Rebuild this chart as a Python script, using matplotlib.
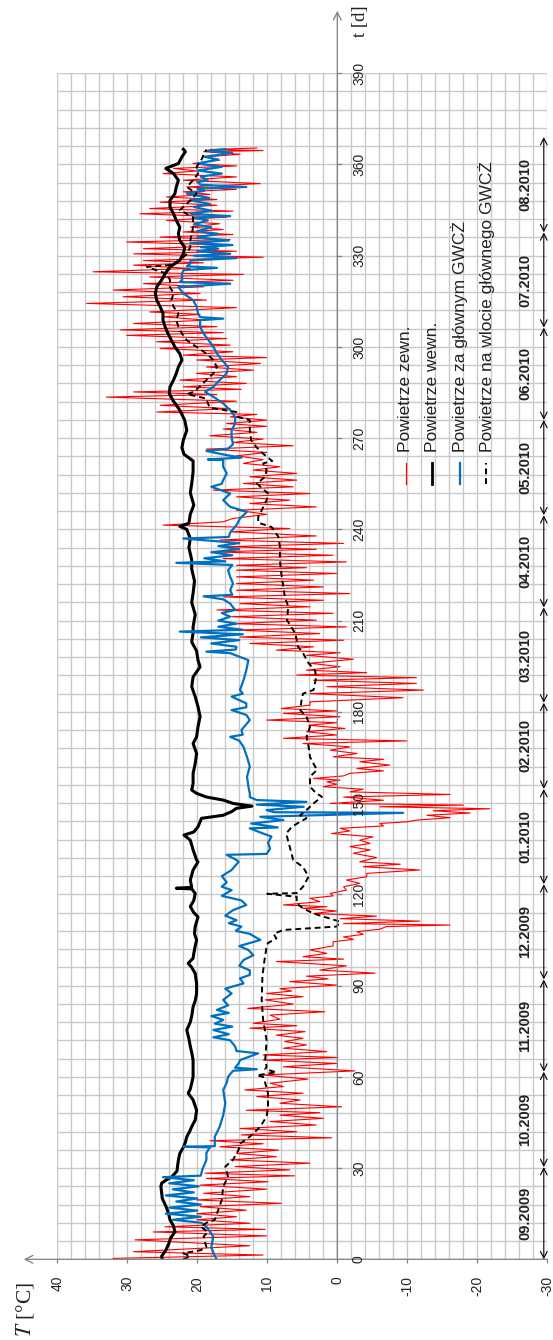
import matplotlib
matplotlib.use('Agg')
import matplotlib.pyplot as plt
import numpy as np

plt.rcParams['font.family'] = ['Liberation Sans', 'DejaVu Sans']
plt.rcParams['mathtext.fontset'] = 'stix'

# ---------------- data ----------------
# outdoor air (Powietrze zewn.) : time [d], local max and min [degC]
red_t = [0.3, 2.5, 6.4, 9, 10.7, 13, 15, 17.3, 19.5, 21.7,
         24.4, 26.6, 28.3, 30.5, 32.7, 34.8, 37, 39, 40.9, 43,
         45.3, 47.4, 49, 51.3, 53.5, 55.7, 57.9, 60.6, 63.3, 65.5,
         67.2, 69.4, 71.6, 73.7, 76, 77.6, 80.3, 82.5, 85.3, 87.4,
         89, 91.3, 93.1, 95.1, 97.9, 99.5, 101.7, 104.4, 106, 107.7,
         109.4, 110.4, 112, 113.7, 115.4, 116.5, 118.7, 120.3, 122.5, 124.7,
         126.9, 129.1, 130.7, 133.5, 135.7, 137.8, 140, 141.7, 143.3, 144.4,
         146, 147.5, 148.8, 149.9, 152, 153.7, 155.4, 157, 158.1, 159.8,
         161.4, 163.6, 165.2, 167.4, 169.6, 171.3, 173.5, 175.6, 177.3, 179.5,
         181.1, 183.3, 186, 188.3, 190.4, 192.1, 193.7, 196, 198.6, 200.3,
         202.5, 204.6, 206.9, 209, 211.3, 213.5, 215.6, 217.8, 220, 222.2,
         224.4, 226.6, 228.2, 230.4, 232.6, 234.3, 236.5, 239.2, 241.4, 243.6,
         246.3, 248.5, 250.7, 252.9, 255.1, 257.3, 259.5, 261.7, 264.2, 266.4,
         268.6, 270.8, 273, 274.8, 277, 278.6, 280.8, 283.5, 285.2, 286.9,
         289.1, 291.3, 293.4, 295.7, 297.3, 299.5, 301.7, 303.8, 305.6, 307.7,
         309.9, 311.5, 314.3, 316.5, 318.7, 320.8, 323, 324.7, 326.9, 328.4,
         330.6, 332.3, 334.5, 336.1, 337.8, 339.4, 341.6, 343.8, 345.5, 347.6,
         349.3, 351, 352.6, 354.8, 357, 358.7, 360.3, 362.5, 364.2, 364.9]
red_max = [32.0, 29.1, 28.9, 26.3, 24.6, 20.1, 20.1, 19.6, 20.1, 19.1,
           19.6, 18.7, 18.9, 14.6, 15.3, 14.4, 16.8, 18.2, 13.7, 13.9,
           9.6, 8.2, 13.0, 8.2, 11.5, 13.2, 9.6, 10.6, 7.7, 10.6,
           10.6, 7.7, 7.5, 8.7, 12.5, 12.0, 9.6, 12.8, 10.3, 10.1,
           8.2, 6.8, 4.4, 2.5, 8.7, 4.9, 3.9, 0.6, -0.9, -2.8,
           -7.0, -0.9, -0.4, 3.4, 4.9, 7.7, 3.9, 1.0, -0.9, -1.3,
           -4.2, -3.7, -3.2, -2.3, -1.8, -3.2, 0.8, -0.4, -6.1, -11.3,
           -12.8, -13.7, -6.1, 1.0, -0.9, -1.8, 2.0, 1.5, 3.4, -1.8,
           -2.8, -3.2, 0.6, 1.0, 4.9, 7.7, 4.4, 4.1, 10.1, 7.7,
           8.0, 3.9, 3.9, 1.5, 3.4, 5.8, 4.4, 3.9, 4.4, 8.7,
           12.5, 13.9, 14.4, 14.9, 15.1, 17.2, 13.9, 16.3, 14.4, 14.4,
           14.4, 14.4, 14.4, 16.3, 17.7, 15.8, 16.8, 15.3, 24.9, 14.9,
           14.4, 12.5, 14.4, 17.7, 13.4, 12.5, 12.0, 13.4, 14.4, 18.7,
           14.9, 18.2, 16.3, 15.8, 15.3, 25.8, 25.3, 33.0, 29.1, 22.0,
           22.5, 20.1, 18.7, 20.1, 22.0, 25.3, 25.8, 30.1, 31.0, 29.1,
           24.9, 26.8, 35.8, 30.6, 32.0, 27.7, 26.8, 34.9, 29.1, 27.7,
           29.1, 27.7, 30.1, 25.3, 22.0, 21.0, 24.4, 28.2, 26.8, 25.3,
           24.4, 22.0, 21.5, 22.0, 24.9, 23.4, 20.6, 18.7, 19.1, 18.2]
red_min = [10.6, 12.5, 10.1, 10.3, 12.5, 14.4, 13.0, 8.0, 12.5, 10.1,
           9.9, 6.1, 6.8, 3.9, 8.7, 8.4, 10.6, 0.8, 5.8, 3.0,
           2.0, 2.5, -0.6, 5.3, 4.9, 7.7, 4.2, -2.5, 0.1, -0.1,
           1.5, 4.4, 4.9, 4.6, 5.8, 8.2, 1.8, 6.3, 4.9, 6.5,
           0.1, 1.3, -5.4, -1.3, -0.9, 1.5, 0.6, -2.3, -3.7, -6.1,
           -16.1, -11.8, -5.6, 0.1, 1.5, 2.5, 0.6, -1.3, -3.2, -4.2,
           -11.8, -9.0, -5.6, -4.7, -4.7, -5.1, -1.8, -6.6, -9.9, -16.1,
           -19.0, -21.8, -18.0, -6.6, -16.1, -3.7, 0.1, -0.4, -0.9, -6.6,
           -7.5, -6.6, -2.8, -1.8, -9.9, 0.1, -1.1, 0.1, -0.4, 0.1,
           3.9, -9.4, -12.3, -11.3, -11.3, -4.2, -0.4, -2.3, -0.4, 3.4,
           -0.9, 2.5, -1.3, 3.0, 0.6, 3.9, 2.0, -1.8, 2.0, 3.4,
           0.1, 4.4, -1.3, 0.6, 3.0, -0.9, 3.0, 6.8, 16.3, 10.1,
           3.0, 6.8, 3.9, 6.3, 5.8, 5.8, 8.2, 10.6, 10.1, 6.3,
           10.6, 11.5, 10.1, 10.1, 11.5, 15.3, 14.4, 17.2, 13.7, 13.0,
           14.4, 12.0, 11.0, 10.1, 14.9, 15.3, 15.8, 16.3, 17.2, 18.7,
           19.6, 14.4, 18.7, 19.6, 19.1, 14.9, 13.4, 21.0, 19.1, 10.6,
           14.4, 14.9, 15.3, 14.9, 16.3, 16.8, 15.8, 14.9, 17.2, 17.2,
           18.2, 14.4, 11.0, 14.4, 20.1, 14.4, 16.8, 13.9, 10.6, 11.5]

# indoor air (Powietrze wewn.)
black_t = [0, 1, 3, 5, 7, 9, 11, 13, 15, 17,
           18, 20, 22, 24, 25, 26, 27, 29, 31, 32.6,
           34.8, 36.8, 38.5, 40.3, 42, 43.6, 45.8, 47.5, 49, 51,
           52.4, 54.6, 56, 57.9, 60, 61, 64.4, 65.5, 68, 70,
           72.5, 75.4, 78, 80, 83, 85, 87.4, 90.7, 94, 96,
           97.3, 99, 100.6, 103, 105, 107, 109.4, 112.6, 114, 116,
           118, 120.3, 121.8, 122, 122.3, 124.7, 128, 130.7, 131.3, 134.6,
           137.8, 139.5, 140.5, 142.2, 145, 146, 147.2, 148.3, 149, 149.9,
           151, 152, 153.2, 154.3, 156.5, 159.8, 163, 166.3, 169.6, 171.8,
           175.1, 178.4, 181.7, 185, 188.3, 191.5, 194.8, 197, 200, 203,
           206, 208, 212, 216, 219, 223, 227, 230, 234, 237,
           240, 241, 242, 245, 248, 252, 255, 259, 262.5, 264.7,
           266.9, 269.3, 272.6, 275.9, 279.2, 282.5, 284.7, 286.9, 289.1, 291.3,
           293.4, 295.7, 297.8, 300, 302.2, 304.4, 306.6, 308.8, 311, 313.2,
           315.4, 317.6, 319.7, 322, 324.1, 326.3, 328.5, 330.6, 332.8, 335,
           337.2, 339.4, 341.6, 343.8, 346, 348.2, 350.4, 352.6, 354.8, 357,
           358.7, 360.3, 362.5, 364.2, 365]
black_v = [25.0, 25.1, 24.5, 24.1, 23.8, 23.2, 23.4, 23.9, 24.1, 24.4,
           24.6, 25.0, 25.1, 25.2, 25.1, 24.5, 23.7, 22.9, 22.8, 22.7,
           22.5, 22.0, 21.7, 21.5, 21.1, 20.8, 20.3, 20.2, 20.1, 20.4,
           20.6, 21.3, 21.0, 20.8, 20.6, 20.6, 20.6, 20.6, 20.8, 21.0,
           21.2, 21.5, 21.0, 20.8, 20.6, 20.3, 20.1, 20.1, 20.3, 20.8,
           21.3, 20.6, 20.5, 20.3, 20.1, 20.4, 20.3, 19.9, 20.5, 21.0,
           20.5, 20.3, 20.8, 23.0, 20.8, 21.0, 20.6, 19.9, 20.1, 20.6,
           21.0, 21.9, 20.5, 19.9, 19.4, 16.3, 15.1, 14.4, 12.2, 14.9,
           16.3, 18.7, 20.1, 20.8, 20.6, 20.6, 20.3, 20.1, 20.6, 20.1,
           19.9, 19.6, 19.9, 20.3, 20.8, 20.6, 19.6, 19.9, 20.1, 20.8,
           20.6, 20.6, 20.3, 20.8, 20.6, 20.4, 20.8, 20.8, 21.2, 21.0,
           21.5, 22.5, 21.2, 21.0, 20.5, 21.0, 20.8, 20.6, 20.6, 21.9,
           22.2, 22.0, 21.5, 21.8, 22.5, 23.5, 24.0, 23.9, 23.4, 23.0,
           22.7, 22.2, 22.5, 23.2, 23.7, 24.2, 24.6, 24.9, 24.9, 25.3,
           25.8, 26.0, 25.8, 25.1, 24.6, 23.9, 22.5, 22.0, 21.8, 22.5,
           22.7, 22.5, 23.0, 23.4, 23.9, 23.9, 23.2, 23.0, 22.7, 23.4,
           24.5, 22.7, 22.2, 21.7, 22.0]

# air after the main ground heat exchanger (Powietrze za glownym GWCZ)
blue_t = [0, 1, 4, 7.5, 10.7, 12, 13, 14, 15, 16,
          17, 18, 19, 20, 21, 22, 23, 24, 25, 26,
          27, 27.5, 29.4, 32.7, 35, 36.8, 37, 37.2, 40.3, 43.6,
          47.4, 51.3, 55.7, 58, 60, 62, 62.5, 63, 64.4, 65.5,
          67.7, 68.5, 70, 72, 73, 74, 75.4, 76.5, 77.5, 78.7,
          80, 81, 82, 83.5, 85.3, 87.4, 89, 90.7, 92.4, 93.5,
          95, 96.5, 98.4, 100, 101.7, 103, 105, 107, 108, 109.4,
          110.5, 111.5, 113, 114.8, 116.5, 118, 119.5, 121.4, 122.5, 124,
          126, 128, 130.7, 131.3, 133, 133.3, 135, 137, 139, 140,
          141.7, 142, 143.3, 144.4, 145.5, 146.8, 147, 147.7, 148.8, 149.5,
          150.4, 151, 152, 153.2, 155.4, 158.7, 162, 165.2, 168.5, 170.5,
          171.8, 172.5, 174, 177.3, 179, 180.6, 181.5, 182.8, 185, 186,
          187.2, 190.4, 193.7, 197, 199.3, 199.8, 200.5, 201.4, 202.5, 203.6,
          204.5, 205.5, 206.4, 207, 208, 209, 210, 211.3, 212.5, 213.5,
          215.6, 217, 218, 218.5, 220, 222.2, 224.4, 226.6, 228.3, 229,
          229.5, 230.5, 231.5, 232.5, 233.5, 234.5, 235.5, 237, 237.5, 239,
          241.4, 243.6, 245.8, 247.4, 249.6, 251.8, 254, 255, 256.2, 258.4,
          260.6, 262.8, 263, 263.6, 264.5, 265.8, 266.5, 268, 270.3, 272.6,
          274.8, 277, 279.2, 281.4, 283.6, 285.2, 286.9, 289.1, 291.3, 293.4,
          295.7, 297.8, 300, 302.2, 304.4, 306.6, 308.8, 309.3, 309.8, 311,
          313.2, 315.4, 317.6, 319.7, 320.8, 321.3, 322, 324.1, 325.2, 326,
          326.5, 327.4, 328.4, 329.2, 330, 330.6, 331.5, 332.3, 332.8, 333.5,
          334.2, 335, 336, 337.2, 338, 339.4, 340.3, 341.6, 342.5, 343,
          343.8, 344.8, 346, 347, 348.2, 349, 350.4, 351.3, 352, 352.6,
          353.3, 354.2, 354.8, 356, 357, 358, 359.2, 360.3, 361.6, 362.5,
          363.8, 364.5, 365]
blue_v = [17.2, 17.5, 18.0, 17.7, 18.7, 19.4, 23.5, 19.5, 24.5, 20.0,
          24.0, 19.5, 23.0, 20.0, 24.5, 20.5, 23.5, 19.8, 24.0, 20.5,
          24.9, 19.5, 19.3, 18.7, 18.7, 18.2, 22.0, 17.5, 17.5, 16.8,
          16.3, 16.0, 16.3, 15.8, 15.6, 14.9, 11.5, 14.6, 14.1, 13.9,
          11.3, 14.4, 14.6, 15.3, 17.7, 15.5, 17.7, 15.0, 17.5, 16.3,
          18.0, 15.5, 17.2, 15.6, 16.3, 15.1, 16.0, 13.4, 13.9, 12.5,
          12.5, 14.0, 13.4, 12.0, 12.7, 14.0, 11.0, 12.5, 14.5, 13.7,
          15.5, 14.4, 16.0, 14.9, 13.0, 13.7, 16.5, 15.1, 16.5, 15.8,
          16.5, 15.1, 14.1, 14.4, 15.8, 10.1, 9.6, 9.9, 9.4, 10.6,
          12.5, 8.5, 12.3, 7.7, 11.0, -9.4, 9.0, 10.1, 4.8, 11.5,
          4.4, 11.5, 12.5, 12.5, 12.7, 12.9, 12.5, 12.9, 13.4, 14.0,
          15.3, 13.5, 13.7, 12.5, 13.0, 15.1, 13.0, 13.0, 15.1, 13.5,
          13.9, 13.4, 13.0, 12.7, 15.3, 18.7, 14.5, 14.4, 18.0, 14.0,
          19.5, 13.5, 22.5, 13.5, 17.0, 14.4, 17.0, 15.3, 16.5, 14.6,
          15.3, 16.3, 19.1, 15.0, 15.3, 14.9, 15.3, 15.6, 15.0, 23.0,
          16.0, 19.0, 15.0, 18.0, 14.0, 17.0, 14.0, 22.0, 15.5, 15.3,
          14.4, 13.9, 12.9, 15.3, 16.3, 15.3, 18.0, 16.5, 16.3, 15.8,
          16.3, 16.3, 18.5, 13.7, 16.0, 18.7, 15.6, 14.9, 15.1, 15.1,
          14.6, 14.6, 15.3, 16.3, 17.7, 18.9, 17.7, 16.8, 15.8, 15.6,
          16.5, 17.2, 17.7, 18.4, 19.1, 19.6, 19.6, 16.3, 19.6, 19.9,
          20.1, 20.6, 22.0, 22.7, 15.3, 22.5, 22.2, 22.2, 22.0, 17.2,
          21.5, 21.0, 21.0, 14.4, 20.5, 15.3, 20.0, 17.0, 19.5, 15.0,
          21.0, 15.5, 20.0, 17.0, 20.0, 18.0, 20.5, 18.5, 20.5, 15.3,
          21.0, 18.0, 20.5, 18.2, 21.0, 18.3, 21.5, 19.0, 20.0, 13.0,
          19.5, 20.0, 18.5, 19.5, 16.5, 20.0, 16.5, 20.0, 17.0, 19.0,
          15.0, 18.5, 16.0]

# air at the inlet of the main ground heat exchanger (na wlocie)
dash_t = [0, 1, 2, 3, 4, 7.5, 9, 10.7, 12, 13,
          16.2, 19.5, 24, 27, 29, 30.5, 32.7, 36, 38, 40.3,
          43.6, 47, 50, 54.6, 58, 60, 60.5, 61.5, 62.5, 63.3,
          65.5, 72, 78.7, 85.3, 93, 98.4, 102.8, 104, 105.5, 107,
          108.3, 109.4, 111, 112, 113.7, 115.4, 117, 119.2, 120.2, 120.4,
          122.5, 125.8, 129, 131.3, 135.7, 140, 142.2, 143.9, 145, 146,
          147.7, 149.9, 152.1, 153.2, 155.4, 158.7, 160.9, 163, 165.2, 168.5,
          171.8, 175.1, 178.4, 180.6, 183.9, 186, 187.2, 189.4, 191.5, 193.7,
          196, 199.3, 201.4, 205.8, 210.2, 214.6, 217.8, 221.1, 225.5, 229.9,
          234.3, 237.5, 240.8, 242.2, 244.1, 246.3, 249.6, 251.8, 255.1, 257.3,
          259.5, 261.7, 262.5, 264.7, 266.9, 269.3, 272.6, 275.9, 277, 278.6,
          280, 281.5, 283, 284.5, 285.2, 286.9, 289.1, 291.3, 293.4, 295.7,
          297.8, 300, 302.2, 304.4, 306.6, 308.8, 311, 313.2, 315.4, 317.6,
          319.7, 322, 324.1, 326.3, 326.9, 328.4, 330.6, 332.8, 335, 337.2,
          339.4, 342.6, 345, 346, 348.2, 350.4, 352.6, 354.8, 357, 359.2,
          361.6, 363.2, 364.9]
dash_v = [22.0, 21.0, 22.0, 19.5, 18.7, 19.1, 18.5, 19.5, 18.7, 17.5,
          17.0, 16.5, 16.3, 15.6, 15.8, 16.0, 14.9, 14.1, 13.9, 12.5,
          11.0, 10.1, 9.9, 9.9, 10.3, 10.6, 11.5, 8.7, 10.3, 10.1,
          10.3, 10.1, 10.6, 10.8, 10.7, 10.4, 10.1, 9.9, 8.7, 9.1,
          7.7, 0.1, -0.4, 1.0, 3.4, 4.9, 5.8, 5.8, 10.0, 5.8,
          4.9, 4.1, 4.9, 6.3, 6.8, 7.3, 6.5, 5.3, 4.4, 5.3,
          4.4, 3.4, 2.2, 3.0, 3.9, 3.9, 2.9, 3.4, 3.9, 4.1,
          4.4, 3.9, 4.4, 5.3, 5.1, 4.9, 3.4, 3.2, 3.0, 3.2,
          4.1, 4.9, 5.6, 6.0, 7.2, 7.0, 7.5, 7.7, 8.0, 8.2,
          8.2, 8.4, 9.4, 11.3, 11.3, 10.8, 10.1, 9.9, 11.5, 10.3,
          10.1, 10.6, 9.3, 10.5, 11.5, 12.3, 12.5, 12.5, 14.2, 14.4,
          18.2, 18.5, 18.7, 21.5, 20.5, 19.7, 18.7, 17.7, 17.2, 17.7,
          18.7, 20.1, 21.5, 22.2, 22.7, 23.0, 22.7, 23.4, 23.7, 23.4,
          23.9, 23.9, 24.4, 27.2, 24.0, 22.5, 21.5, 21.0, 21.0, 20.8,
          20.6, 20.6, 22.5, 22.0, 21.0, 20.1, 21.5, 20.6, 19.9, 20.1,
          19.4, 19.1, 18.7]

T_ticks = [40, 30, 20, 10, 0, -10, -20, -30]
T_tick_labels = ['40', '30', '20', '10', '0', '-10', '-20', '-30']
t_ticks = [0, 30, 60, 90, 120, 150, 180, 210, 240, 270, 300, 330, 360, 390]

month_bounds = [0, 30, 61, 91, 122, 153, 181, 212, 242, 273, 303, 334, 365]
month_labels = ['09.2009', '10.2009', '11.2009', '12.2009', '01.2010', '02.2010',
                '03.2010', '04.2010', '05.2010', '06.2010', '07.2010', '08.2010']

series_names = ['Powietrze zewn.', 'Powietrze wewn.', 'Powietrze za głównym GWCŻ',
                'Powietrze na wlocie głównego GWCŻ']

assert len(red_t) == len(red_max) == len(red_min)
assert len(black_t) == len(black_v)
assert len(blue_t) == len(blue_v)
assert len(dash_t) == len(dash_v)

# ---------------- figure ----------------
W, H = 553, 1340
fig = plt.figure(figsize=(W / 100, H / 100), dpi=100)
ax = fig.add_axes([57.3 / W, 80.7 / H, 490.0 / W, 1186.1 / H])
ax.set_xlim(40, -30)
ax.set_ylim(0, 390)
for s in ax.spines.values():
    s.set_visible(False)

GRID = '#c9c9c9'
AXC = '#808080'
for v in np.arange(-30, 41, 2):
    ax.axvline(v, color=GRID, lw=1.0, zorder=0)
for v in np.arange(0, 391, 6):
    ax.axhline(v, color=GRID, lw=1.0, zorder=0)

ax.set_yticks([])
ax.set_xticks(T_ticks)
ax.set_xticklabels(T_tick_labels, rotation=90, fontsize=10, color='#222222')
ax.tick_params(axis='x', direction='out', length=3, width=0.9, color=AXC, pad=9)

# axes with arrows
ax.annotate('', xy=(0, 410.5), xytext=(0, 0), xycoords='data',
            arrowprops=dict(arrowstyle='->', color=AXC, lw=0.9, shrinkA=0, shrinkB=0,
                            mutation_scale=14), annotation_clip=False, zorder=6)
ax.annotate('', xy=(44.8, 0), xytext=(-30, 0), xycoords='data',
            arrowprops=dict(arrowstyle='->', color=AXC, lw=0.9, shrinkA=0, shrinkB=0,
                            mutation_scale=14), annotation_clip=False, zorder=6)
for tt in t_ticks[1:]:
    ax.plot([0, -0.6], [tt, tt], color=AXC, lw=0.9, clip_on=False, zorder=6)
for tt in t_ticks:
    ax.text(-3.1, tt, str(tt), rotation=90, ha='center', va='center', fontsize=10,
            color='#222222', zorder=7)

ax.text(-3.3, 407.0, 't [d]', rotation=90, ha='center', va='center', fontsize=13.5,
        family='Liberation Serif', color='#222222')
fig.text(25 / W, 1 - 1310 / H, r'$T$ [°C]', rotation=90, ha='center', va='center',
         fontsize=15.5, family='Liberation Serif', color='#222222')

# ---------------- series ----------------
rt, rv = [], []
for i in range(len(red_t)):
    nxt = red_t[i + 1] if i + 1 < len(red_t) else red_t[i] + 1.0
    rt += [red_t[i], 0.5 * (red_t[i] + nxt)]
    rv += [red_max[i], red_min[i]]
ax.plot(rv, rt, color='#FF0000', lw=0.8, zorder=2)
ax.plot(black_v, black_t, color='black', lw=2.2, zorder=3)
ax.plot(blue_v, blue_t, color='#0070C0', lw=1.6, zorder=4)
ax.plot(dash_v, dash_t, color='black', lw=1.4, ls=(0, (3, 2)), zorder=5)

# ---------------- month axis ----------------
stretch = 1.011
xm = -29.5
mb = [b * stretch for b in month_bounds]
for i in range(len(month_labels)):
    ax.annotate('', xy=(xm, mb[i + 1]), xytext=(xm, mb[i]), xycoords='data',
                arrowprops=dict(arrowstyle='<->', color='black', lw=0.8, shrinkA=0,
                                shrinkB=0, mutation_scale=12), annotation_clip=False, zorder=6)
    ax.text(-26.8, 0.5 * (mb[i] + mb[i + 1]), month_labels[i], rotation=90, ha='center',
            va='center', fontsize=10.5, fontweight='bold', color='#222222', zorder=7)

# ---------------- legend ----------------
leg_x = [-9.8, -13.6, -17.5, -21.3]
leg_styles = [dict(color='#FF0000', lw=0.9), dict(color='black', lw=2.0),
              dict(color='#0070C0', lw=1.6), dict(color='black', lw=1.4, ls=(0, (3, 2)))]
for x, name, st in zip(leg_x, series_names, leg_styles):
    ax.plot([x, x], [254.9, 261.8], zorder=6, **st)
    ax.text(x, 265.5, name, rotation=90, ha='center', va='bottom', fontsize=12.5,
            color='#222222', zorder=7)

fig.savefig('out.png', dpi=100)
